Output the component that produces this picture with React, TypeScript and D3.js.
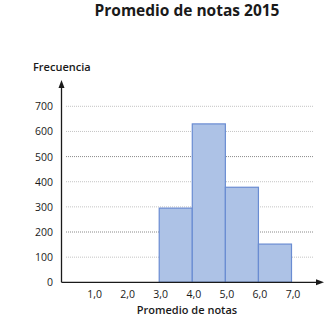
import React from "react";
import * as d3 from "d3";

// Histogram bins: [lower, upper) of the grade interval and its frequency
const binStarts = [3, 4, 5, 6];
const binEnds = [4, 5, 6, 7];
const frequencies = [295, 630, 378, 152];

const xTicks = [1, 2, 3, 4, 5, 6, 7];
const yTicks = [0, 100, 200, 300, 400, 500, 600, 700];
const darkGrid = [200, 500];

const W = 324;
const H = 323;
const FONT = "'Open Sans', 'Noto Sans', sans-serif";

export default function App() {
  const x = d3.scaleLinear().domain([0, 7]).range([60, 291.5]);
  const y = d3.scaleLinear().domain([0, 700]).range([282.3, 106.3]);
  const axisX = 61.5;
  const axisY = y(0);
  const fmt = (v: number) => v.toFixed(1).replace(".", ",");

  return (
    <svg
      width={W}
      height={H}
      style={{ position: "absolute", left: 0, top: 0, background: "#fff" }}
      fontFamily={FONT}
    >
      <text x={187} y={16} textAnchor="middle" fontSize={15.5} fontWeight={700} fill="#1a1a1a">
        Promedio de notas 2015
      </text>

      {/* horizontal gridlines */}
      {yTicks.slice(1).map((t) => (
        <line
          key={t}
          x1={66}
          x2={313}
          y1={y(t)}
          y2={y(t)}
          stroke={darkGrid.includes(t) ? "#8a8a8a" : "#c4c4c4"}
          strokeWidth={1}
          strokeDasharray="1,1"
        />
      ))}

      {/* bars */}
      {frequencies.map((f, i) => (
        <rect
          key={i}
          x={x(binStarts[i])}
          y={y(f)}
          width={x(binEnds[i]) - x(binStarts[i])}
          height={axisY - y(f)}
          fill="#adc2e6"
          stroke="#6a8cd2"
          strokeWidth={1.2}
        />
      ))}

      {/* axes with arrowheads */}
      <line x1={axisX} x2={axisX} y1={axisY} y2={84} stroke="#1a1a1a" strokeWidth={1.3} />
      <path d={`M${axisX - 3},${88} L${axisX},${80} L${axisX + 3},${88} Z`} fill="#1a1a1a" />
      <line x1={axisX} x2={318} y1={axisY} y2={axisY} stroke="#1a1a1a" strokeWidth={1.3} />
      <path d={`M${316},${axisY - 3} L${324},${axisY} L${316},${axisY + 3} Z`} fill="#1a1a1a" />

      {/* y tick labels */}
      {yTicks.map((t) => (
        <text key={t} x={53} y={y(t) + 4} textAnchor="end" fontSize={10.5} fill="#1a1a1a">
          {t}
        </text>
      ))}

      {/* x tick labels */}
      {xTicks.map((t) => (
        <text key={t} x={x(t) + 1.5} y={298} textAnchor="middle" fontSize={10.5} fill="#1a1a1a">
          {fmt(t)}
        </text>
      ))}

      <text x={33} y={71} fontSize={11} fontWeight={600} fill="#1a1a1a">
        Frecuencia
      </text>
      <text x={187} y={314} textAnchor="middle" fontSize={11} fontWeight={600} fill="#1a1a1a">
        Promedio de notas
      </text>
    </svg>
  );
}
